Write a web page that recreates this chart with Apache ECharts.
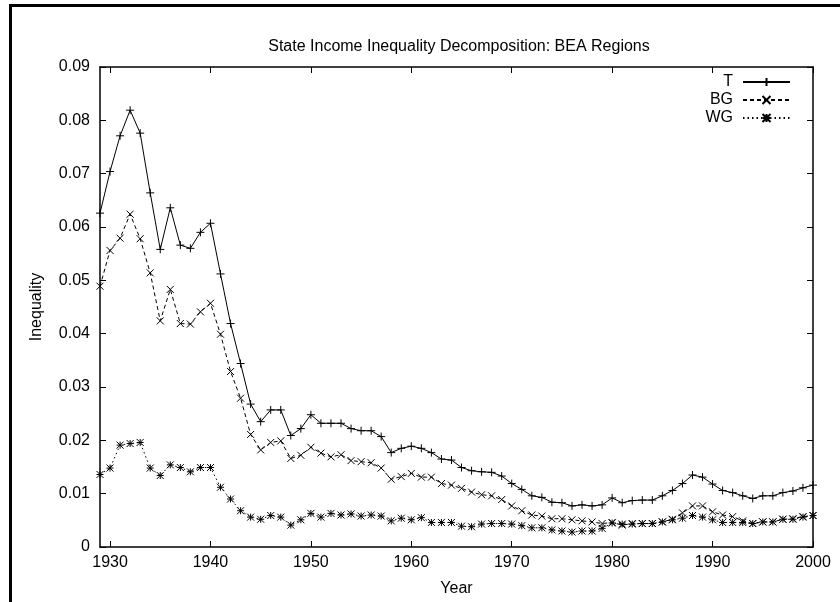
<!DOCTYPE html>
<html>
<head>
<meta charset="utf-8">
<script src="https://cdn.jsdelivr.net/npm/echarts@6/dist/echarts.min.js"></script>
<style>
  html, body { margin: 0; padding: 0; background: #fff; }
  #chart { width: 840px; height: 602px; }
</style>
</head>
<body>
<div id="chart"></div>
<script>
// Years of observation
const years = [
  1929, 1930, 1931, 1932, 1933, 1934, 1935, 1936, 1937, 1938, 1939, 1940,
  1941, 1942, 1943, 1944, 1945, 1946, 1947, 1948, 1949, 1950,
  1951, 1952, 1953, 1954, 1955, 1956, 1957, 1958, 1959, 1960,
  1961, 1962, 1963, 1964, 1965, 1966, 1967, 1968, 1969, 1970,
  1971, 1972, 1973, 1974, 1975, 1976, 1977, 1978, 1979, 1980,
  1981, 1982, 1983, 1984, 1985, 1986, 1987, 1988, 1989, 1990,
  1991, 1992, 1993, 1994, 1995, 1996, 1997, 1998, 1999, 2000
];

// Total inequality
const totalT = [
  0.0626, 0.0704, 0.0771, 0.0819, 0.0776, 0.0664, 0.0558, 0.0636, 0.0566, 0.0560, 0.0590, 0.0607,
  0.0512, 0.0419, 0.0344, 0.0268, 0.0235, 0.0257, 0.0257, 0.0209, 0.0222, 0.0248,
  0.0232, 0.0232, 0.0232, 0.0222, 0.0218, 0.0218, 0.0207, 0.0177, 0.0185, 0.0189,
  0.0185, 0.0177, 0.0165, 0.0163, 0.0149, 0.0143, 0.0141, 0.0140, 0.0133, 0.0119,
  0.0108, 0.0096, 0.0093, 0.0084, 0.0083, 0.0077, 0.0079, 0.0077, 0.0079, 0.0092,
  0.0083, 0.0087, 0.0088, 0.0088, 0.0096, 0.0106, 0.0119, 0.0135, 0.0131, 0.0118,
  0.0106, 0.0102, 0.0096, 0.0091, 0.0096, 0.0096, 0.0102, 0.0105, 0.0111, 0.0116
];

// Between-group component
const betweenBG = [
  0.0489, 0.0556, 0.0579, 0.0624, 0.0578, 0.0514, 0.0424, 0.0483, 0.0419, 0.0418, 0.0441, 0.0457,
  0.0399, 0.0329, 0.0279, 0.0211, 0.0182, 0.0196, 0.0199, 0.0166, 0.0172, 0.0187,
  0.0176, 0.0169, 0.0173, 0.0162, 0.0160, 0.0158, 0.0148, 0.0127, 0.0132, 0.0138,
  0.0131, 0.0131, 0.0119, 0.0116, 0.0110, 0.0103, 0.0098, 0.0096, 0.0089, 0.0077,
  0.0068, 0.0060, 0.0058, 0.0053, 0.0053, 0.0051, 0.0049, 0.0047, 0.0044, 0.0046,
  0.0041, 0.0044, 0.0044, 0.0044, 0.0047, 0.0052, 0.0064, 0.0077, 0.0077, 0.0066,
  0.0060, 0.0057, 0.0049, 0.0044, 0.0047, 0.0047, 0.0052, 0.0053, 0.0057, 0.0059
];

// Within-group component
const withinWG = [
  0.0136, 0.0148, 0.0191, 0.0194, 0.0196, 0.0148, 0.0134, 0.0154, 0.0149, 0.0141, 0.0149, 0.0149,
  0.0112, 0.0090, 0.0068, 0.0056, 0.0052, 0.0059, 0.0056, 0.0041, 0.0051, 0.0063,
  0.0056, 0.0063, 0.0060, 0.0062, 0.0058, 0.0060, 0.0058, 0.0049, 0.0054, 0.0051,
  0.0055, 0.0046, 0.0046, 0.0046, 0.0039, 0.0038, 0.0043, 0.0044, 0.0044, 0.0043,
  0.0040, 0.0036, 0.0036, 0.0032, 0.0030, 0.0028, 0.0030, 0.0030, 0.0035, 0.0045,
  0.0043, 0.0043, 0.0044, 0.0044, 0.0047, 0.0051, 0.0054, 0.0059, 0.0056, 0.0051,
  0.0046, 0.0046, 0.0046, 0.0044, 0.0047, 0.0047, 0.0052, 0.0052, 0.0056, 0.0059
];

// Axis tick positions
const yearTicks = [1930, 1940, 1950, 1960, 1970, 1980, 1990, 2000];

const FONT = '"Liberation Sans", Arial, Helvetica, sans-serif';

// Stroke-only point markers
const MARK_PLUS = 'path://M5,0L5,10M0,5L10,5';
const MARK_CROSS = 'path://M0,0L10,10M10,0L0,10';
const MARK_STAR = 'path://M5,0L5,10M0,5L10,5M0,0L10,10M10,0L0,10';

function pairs(vals) {
  return years.map((y, i) => [y, vals[i]]);
}

function lineSeries(name, vals, symbol, size, dash) {
  return {
    name: name,
    type: 'line',
    data: pairs(vals),
    symbol: symbol,
    symbolSize: size,
    showSymbol: true,
    showAllSymbol: true,
    lineStyle: { color: '#000', width: 1, type: dash },
    itemStyle: { color: '#000', borderColor: '#000', borderWidth: 1 },
    emphasis: { disabled: true },
    z: 3
  };
}

const chart = echarts.init(document.getElementById('chart'), null, { renderer: 'canvas' });

const tickCommon = { show: true, inside: true, length: 6, lineStyle: { color: '#000', width: 1 } };
const lineCommon = { show: true, onZero: false, lineStyle: { color: '#000', width: 1.5 } };

chart.setOption({
  animation: false,
  backgroundColor: '#fff',
  textStyle: { fontFamily: FONT },
  title: {
    text: 'State Income Inequality Decomposition: BEA Regions',
    left: 454,
    textAlign: 'center',
    top: 34,
    textStyle: { fontFamily: FONT, fontSize: 16, fontWeight: 'normal', color: '#000' }
  },
  legend: {
    orient: 'vertical',
    right: 44,
    top: 69,
    align: 'right',
    itemWidth: 47,
    itemHeight: 10,
    itemGap: 2,
    selectedMode: false,
    textStyle: { fontFamily: FONT, fontSize: 16, color: '#000', padding: [0, 5, 0, 0] },
    data: ['T', 'BG', 'WG']
  },
  grid: { left: 100, right: 27, top: 67, bottom: 55, containLabel: false },
  xAxis: [
    {
      type: 'value',
      min: 1929,
      max: 2000,
      name: 'Year',
      nameLocation: 'middle',
      nameGap: 34,
      nameTextStyle: { fontFamily: FONT, fontSize: 16, color: '#000' },
      axisLine: lineCommon,
      axisTick: Object.assign({ customValues: yearTicks }, tickCommon),
      axisLabel: {
        customValues: yearTicks,
        margin: 8,
        fontFamily: FONT, fontSize: 16, color: '#000',
        formatter: v => String(v)
      },
      splitLine: { show: false }
    },
    {
      type: 'value',
      position: 'top',
      min: 1929,
      max: 2000,
      axisLine: lineCommon,
      axisTick: Object.assign({ customValues: yearTicks }, tickCommon),
      axisLabel: { show: false },
      splitLine: { show: false }
    }
  ],
  yAxis: [
    {
      type: 'value',
      min: 0,
      max: 0.09,
      interval: 0.01,
      name: 'Inequality',
      nameLocation: 'middle',
      nameRotate: 90,
      nameGap: 55,
      nameTextStyle: { fontFamily: FONT, fontSize: 16, color: '#000' },
      axisLine: lineCommon,
      axisTick: tickCommon,
      axisLabel: {
        margin: 10,
        fontFamily: FONT, fontSize: 16, color: '#000',
        formatter: v => (v === 0 ? '0' : v.toFixed(2))
      },
      splitLine: { show: false }
    },
    {
      type: 'value',
      position: 'right',
      min: 0,
      max: 0.09,
      interval: 0.01,
      axisLine: lineCommon,
      axisTick: tickCommon,
      axisLabel: { show: false },
      splitLine: { show: false }
    }
  ],
  graphic: [
    { type: 'line', shape: { x1: 10, y1: 5.5, x2: 840, y2: 5.5 }, style: { stroke: '#000', lineWidth: 3 }, silent: true },
    { type: 'line', shape: { x1: 10.5, y1: 4, x2: 10.5, y2: 602 }, style: { stroke: '#000', lineWidth: 3 }, silent: true }
  ],
  series: [
    lineSeries('T', totalT, MARK_PLUS, 8, 'solid'),
    lineSeries('BG', betweenBG, MARK_CROSS, 7, [4, 3]),
    lineSeries('WG', withinWG, MARK_STAR, 7, [1.5, 3])
  ]
});
</script>
</body>
</html>
